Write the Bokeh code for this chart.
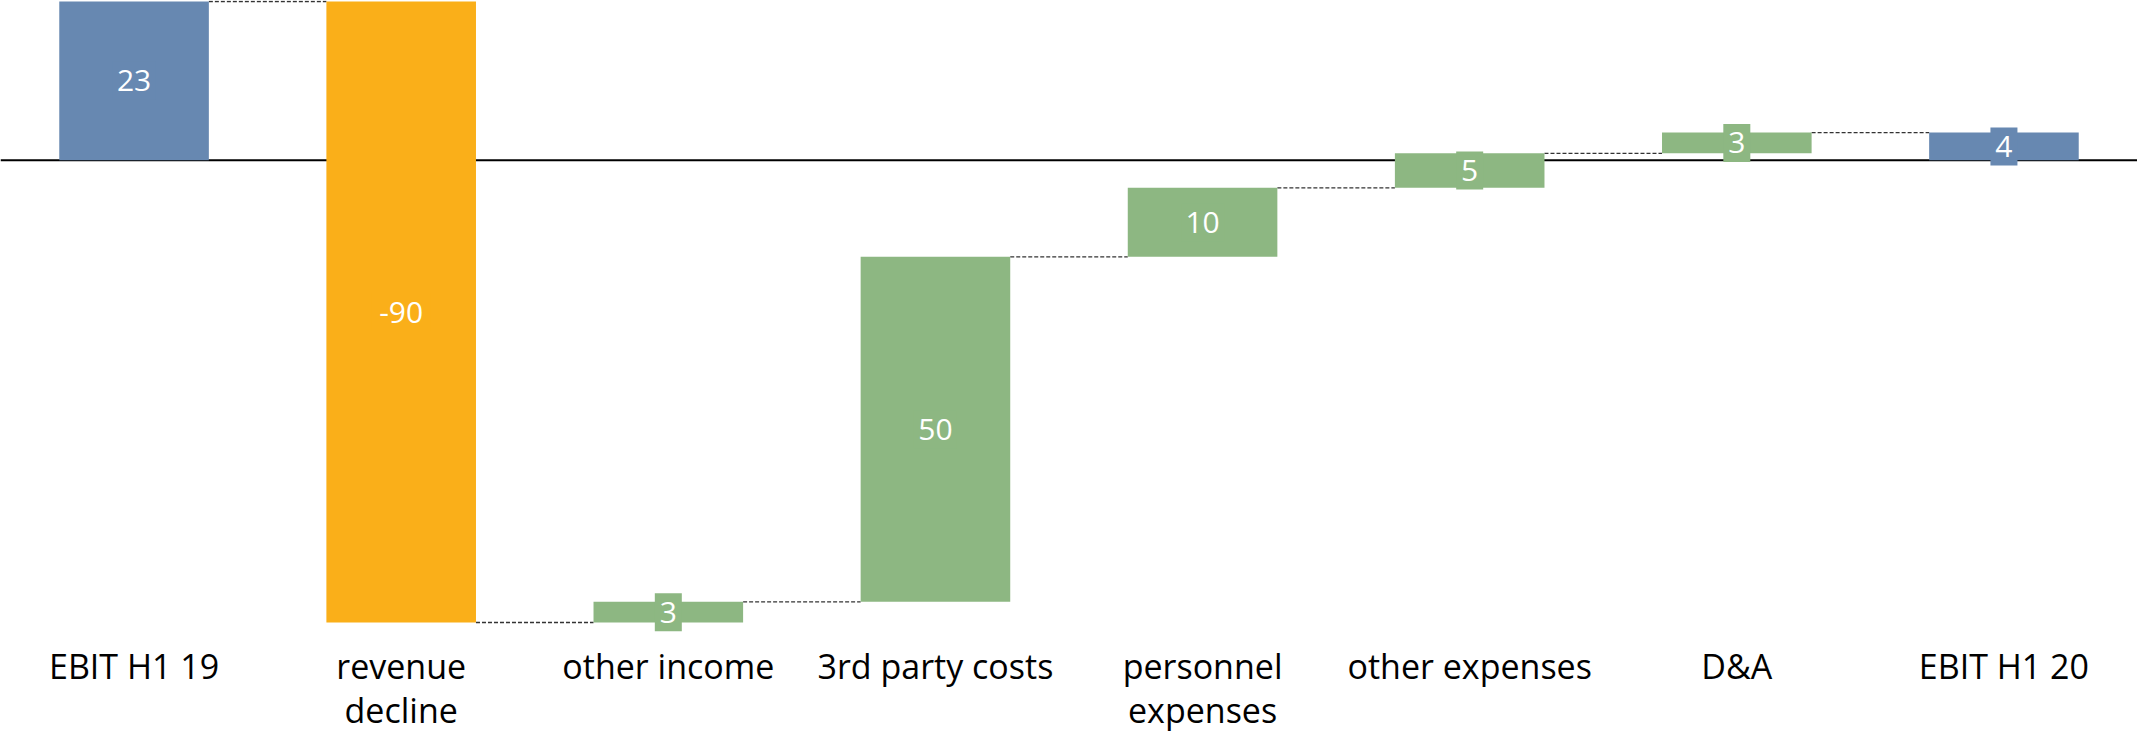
from bokeh.plotting import figure
from bokeh.models import Range1d, Span, ColumnDataSource
from bokeh.core.properties import value
from bokeh.embed import file_html
from bokeh.resources import INLINE

# ---- data ----
categories = ["EBIT H1 19", "revenue decline", "other income", "3rd party costs",
              "personnel expenses", "other expenses", "D&A", "EBIT H1 20"]
tick_labels = ["EBIT H1 19", "revenue\ndecline", "other income", "3rd party costs",
               "personnel\nexpenses", "other expenses", "D&A", "EBIT H1 20"]
values = [23, -90, 3, 50, 10, 5, 3, 4]
kinds = ["total", "delta", "delta", "delta", "delta", "delta", "delta", "total"]

# ---- style ----
TOTAL_COLOR = "#6788B1"
NEG_COLOR = "#FAAF19"
POS_COLOR = "#8DB782"
FONT = "Open Sans"
BAR_W = 0.56
PX_PER_UNIT = 6.9
W, H = 2137, 738

n = len(categories)
xs = [i + 0.5 for i in range(n)]
bottoms, tops, colors, ends = [], [], [], []
running = 0
for v, k in zip(values, kinds):
    if k == "total":
        b, t = 0, v
        running = v
        c = TOTAL_COLOR
    else:
        b, t = running, running + v
        running += v
        c = POS_COLOR if v >= 0 else NEG_COLOR
    bottoms.append(b)
    tops.append(t)
    colors.append(c)
    ends.append(running)

ymax = max(max(tops), max(bottoms))
ymin = min(min(tops), min(bottoms))
y_end = ymax + 1.0 / PX_PER_UNIT
y_start = y_end - H / PX_PER_UNIT

p = figure(width=W, height=H, x_range=Range1d(0, n), y_range=Range1d(y_start, y_end),
           output_backend="svg", toolbar_location=None, min_border=0)
p.axis.visible = False
p.grid.visible = False
p.outline_line_color = None
p.background_fill_color = "white"
p.border_fill_color = "white"

# zero line (under bars)
p.add_layout(Span(location=0, dimension="width", line_color="#000000",
                  line_width=2, level="underlay"))

# connectors
cx0 = [xs[i] + BAR_W / 2 for i in range(n - 1)]
cx1 = [xs[i + 1] - BAR_W / 2 for i in range(n - 1)]
cy = [ends[i] for i in range(n - 1)]
p.segment(x0=cx0, y0=cy, x1=cx1, y1=cy, line_color="#333333", line_width=1.3,
          line_dash="4 2")

# bars
src = ColumnDataSource(dict(x=xs, bottom=bottoms, top=tops, color=colors,
                            mid=[(b + t) / 2 for b, t in zip(bottoms, tops)],
                            lab=[str(v) for v in values],
                            boxw=[11 + 16 * len(str(v)) for v in values]))
p.vbar(x="x", bottom="bottom", top="top", width=BAR_W, fill_color="color",
       line_color=None, source=src)

# data label boxes
p.rect(x="x", y="mid", width="boxw", height=38, width_units="screen",
       height_units="screen", fill_color="color", line_color=None, source=src)
p.text(x="x", y="mid", text="lab", text_color="white", text_font=value(FONT),
       text_font_size="30px", text_align="center", text_baseline="middle", source=src)

# category labels
lab_src = ColumnDataSource(dict(x=xs, y=[ymin - 2.93] * n, t=tick_labels))
p.text(x="x", y="y", text="t", text_color="black", text_font=value(FONT),
       text_font_size="34px", text_align="center", text_baseline="top",
       text_line_height=0.96, source=lab_src)

open("out.html", "w").write(file_html(p, INLINE))
